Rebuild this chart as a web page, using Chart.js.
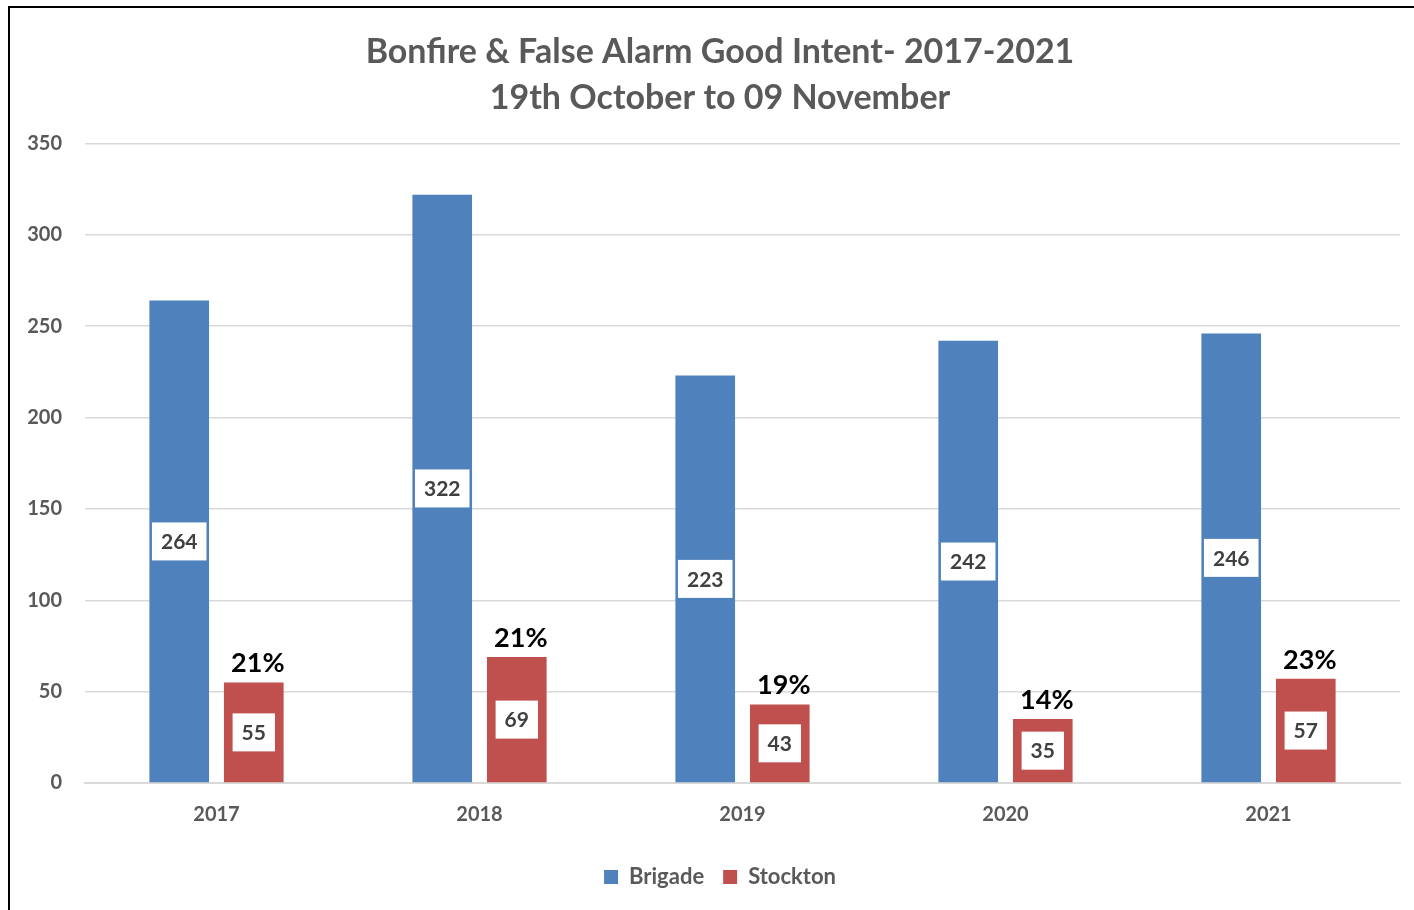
<!DOCTYPE html>
<html>
<head>
<meta charset="utf-8">
<script src="https://cdn.jsdelivr.net/npm/chart.js@4.4.1/dist/chart.umd.min.js"></script>
<style>
  html, body { margin: 0; padding: 0; background: #fff; overflow: hidden; }
  #frame {
    position: absolute; left: 8px; top: 6px;
    width: 1430px; height: 910px;
    border-left: 2px solid #000; border-top: 2px solid #000;
  }
  #chart { display: block; }
</style>
</head>
<body>
<div id="frame"><canvas id="chart" width="1420" height="902"></canvas></div>
<script>
// chart data
const years = ['2017', '2018', '2019', '2020', '2021'];
const brigade = [264, 322, 223, 242, 246];
const stockton = [55, 69, 43, 35, 57];
const stocktonShare = ['21%', '21%', '19%', '14%', '23%'];
const yTicks = [0, 50, 100, 150, 200, 250, 300, 350];

const BLUE = '#4F81BD';
const RED = '#C0504D';
const GREY = '#595959';
const FONT = 'Lato, "Open Sans", sans-serif';

// white value boxes in the middle of each bar + percentage above the red ones
const labelPlugin = {
    id: 'barLabels',
    afterDatasetsDraw(chart) {
        const ctx = chart.ctx;
        ctx.save();
        ctx.textAlign = 'center';
        ctx.textBaseline = 'middle';
        chart.data.datasets.forEach((ds, di) => {
            const meta = chart.getDatasetMeta(di);
            meta.data.forEach((bar, i) => {
                const txt = String(ds.data[i]);
                ctx.font = 'bold 21px ' + FONT;
                const w = ctx.measureText(txt).width + 18;
                const h = 38;
                const cy = (bar.y + bar.base) / 2;
                ctx.fillStyle = '#fff';
                ctx.fillRect(bar.x - w / 2, cy - h / 2, w, h);
                ctx.fillStyle = '#404040';
                ctx.fillText(txt, bar.x, cy + 1);

                if (di === 1) {
                    ctx.font = 'bold 27px ' + FONT;
                    ctx.fillStyle = '#000';
                    ctx.fillText(stocktonShare[i], bar.x + 4, bar.y - 19);
                }
            });
        });
        ctx.restore();
    }
};

new Chart(document.getElementById('chart'), {
    type: 'bar',
    data: {
        labels: years,
        datasets: [
            { label: 'Brigade', data: brigade, backgroundColor: BLUE },
            { label: 'Stockton', data: stockton, backgroundColor: RED }
        ]
    },
    options: {
        responsive: false,
        animation: false,
        datasets: {
            bar: { categoryPercentage: 0.567, barPercentage: 0.8 }
        },
        layout: { padding: { left: 0, right: 0, top: 0, bottom: 12 } },
        scales: {
            x: {
                grid: { display: false, drawTicks: false },
                border: { color: '#d9d9d9', width: 2 },
                ticks: { color: GREY, font: { family: FONT, size: 20, weight: 'bold' }, padding: 20 }
            },
            y: {
                min: 0,
                max: 350,
                afterBuildTicks(scale) { scale.ticks = yTicks.map(v => ({ value: v })); },
                afterFit(scale) { scale.width = 75; },
                grid: { color: '#d9d9d9', lineWidth: 1.5, drawTicks: false },
                border: { display: false },
                ticks: { color: GREY, font: { family: FONT, size: 20, weight: 'bold' }, padding: 23 }
            },
            // empty strip on the right so the title stays centred on the whole frame
            spacer: {
                position: 'right',
                afterFit(scale) { scale.width = 30; },
                grid: { display: false, drawTicks: false },
                border: { display: false },
                ticks: { display: false }
            }
        },
        plugins: {
            title: {
                display: true,
                text: ['Bonfire & False Alarm Good Intent- 2017-2021', '19th October to 09 November'],
                color: GREY,
                font: { family: FONT, size: 34, weight: 'bold', lineHeight: 1.36 },
                padding: { top: 21, bottom: 22 }
            },
            legend: {
                position: 'bottom',
                labels: {
                    color: GREY,
                    font: { family: FONT, size: 22, weight: 'bold' },
                    boxWidth: 14, boxHeight: 14, padding: 19
                }
            },
            tooltip: { enabled: false }
        }
    },
    plugins: [labelPlugin]
});
</script>
</body>
</html>
